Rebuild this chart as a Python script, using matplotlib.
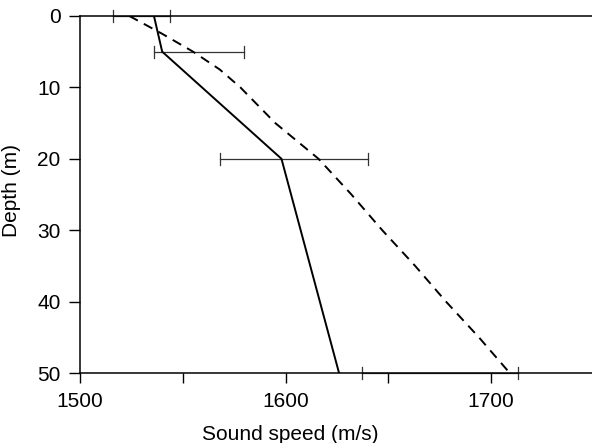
import matplotlib
matplotlib.use("Agg")
import matplotlib.pyplot as plt
from matplotlib.ticker import MultipleLocator

plt.rcParams.update({
    "font.family": ["Liberation Sans", "DejaVu Sans"],
    "axes.linewidth": 1.1,
})

# solid profile: depth (m) vs sound speed (m/s)
solid_depth = [0, 5, 20, 50]
solid_speed = [1536, 1540, 1598, 1626]

# dashed profile
dash_depth = [0, 2.5, 5, 7.5, 10, 15, 20, 25, 30, 35, 40, 45, 50]
dash_speed = [1524, 1540, 1555, 1568, 1578, 1595, 1616, 1632, 1647, 1663, 1678, 1694, 1709]

# horizontal error bars
err_depth = [0, 5, 20, 50]
err_lo = [1516, 1536, 1568, 1637]
err_hi = [1544, 1580, 1640, 1713]

fig = plt.figure(figsize=(5.92, 4.43), dpi=100)
ax = fig.add_axes([0.135, 0.158, 0.865, 0.806])

ax.plot(solid_speed, solid_depth, color="black", lw=1.4, zorder=3)
ax.plot(dash_speed, dash_depth, color="black", lw=1.4, ls=(0, (5, 3.5)), zorder=3)

for d, lo, hi in zip(err_depth, err_lo, err_hi):
    ax.plot([lo, hi], [d, d], color="#333333", lw=0.9, zorder=2, clip_on=False)
    for xx in (lo, hi):
        ax.plot([xx, xx], [d - 0.85, d + 0.85], color="#333333", lw=0.9,
                zorder=2, clip_on=False)

ax.set_xlim(1500, 1749)
ax.set_ylim(50, 0)
ax.set_xticks([1500, 1600, 1700])
ax.xaxis.set_minor_locator(MultipleLocator(50))
ax.set_yticks(range(0, 51, 10))
ax.spines["right"].set_visible(False)
ax.tick_params(axis="y", direction="out", length=8, width=1.0, pad=6, labelsize=15)
ax.tick_params(axis="x", which="both", direction="out", length=7.5, width=1.0,
               pad=6, labelsize=15)
ax.set_xlabel("Sound speed (m/s)", fontsize=15)
ax.xaxis.set_label_coords(0.41, -0.145)
ax.set_ylabel("Depth (m)", fontsize=15)
ax.yaxis.set_label_coords(-0.115, 0.51)

fig.savefig("out.png", dpi=100)
